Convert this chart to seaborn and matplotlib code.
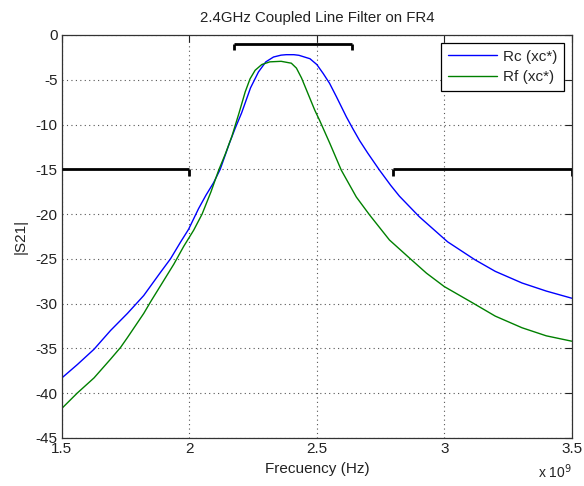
import numpy as np
import pandas as pd
import matplotlib
matplotlib.use("Agg")
import matplotlib.pyplot as plt
from matplotlib.ticker import FuncFormatter, MultipleLocator
import seaborn as sns

# Measured |S21| of the coupled line filter (frequency in GHz, magnitude in dB)
rc_freq_ghz = [1.50, 1.561, 1.626, 1.691, 1.757, 1.821, 1.887, 1.926, 1.965, 1.997,
               2.036, 2.065, 2.095, 2.121, 2.157, 2.18, 2.205, 2.24, 2.271, 2.30,
               2.33, 2.36, 2.38, 2.41, 2.43, 2.473, 2.50, 2.525, 2.55, 2.577,
               2.616, 2.64, 2.668, 2.70, 2.746, 2.79, 2.824, 2.902, 3.013, 3.12, 3.20,
               3.305, 3.40, 3.50]
rc_s21_db = [-38.3, -36.8, -35.1, -33.0, -31.1, -29.1, -26.5, -25.0, -23.15, -21.7,
             -19.4, -17.9, -16.5, -15.0, -12.1, -10.4, -8.7, -5.9, -4.13, -3.0,
             -2.46, -2.25, -2.2, -2.2, -2.27, -2.65, -3.3, -4.3, -5.4, -6.9,
             -9.15, -10.4, -11.8, -13.2, -15.1, -16.8, -18.0, -20.3, -23.1, -25.1, -26.4,
             -27.7, -28.6, -29.4]

rf_freq_ghz = [1.50, 1.56, 1.626, 1.691, 1.73, 1.757, 1.821, 1.85, 1.887, 1.939,
               1.978, 2.017, 2.05, 2.085, 2.115, 2.141, 2.167, 2.195, 2.219, 2.238,
               2.258, 2.284, 2.316, 2.36, 2.40, 2.42, 2.44, 2.466, 2.492, 2.512,
               2.551, 2.596, 2.655, 2.707, 2.785, 2.863, 2.93, 3.00, 3.11, 3.20,
               3.305, 3.40, 3.50]
rf_s21_db = [-41.7, -40.0, -38.3, -36.2, -34.9, -33.8, -31.1, -29.7, -28.0, -25.6,
             -23.6, -21.8, -20.0, -17.5, -15.1, -13.3, -11.3, -8.7, -6.36, -4.9,
             -3.94, -3.3, -3.0, -2.94, -3.15, -3.7, -4.8, -6.6, -8.4, -9.6,
             -12.1, -15.1, -18.1, -20.1, -22.9, -24.9, -26.6, -28.1, -29.9, -31.4,
             -32.7, -33.6, -34.2]

series_names = ["Rc (xc*)", "Rf (xc*)"]
series_colors = ["#0000ff", "#008000"]

# Filter specification mask: (start GHz, end GHz, level dB)
mask_stopband_low = (1.50, 2.00, -15.0)
mask_passband = (2.175, 2.637, -1.0)
mask_stopband_high = (2.80, 3.50, -15.0)
mask_tick_db = 0.7

title_text = "2.4GHz Coupled Line Filter on FR4"
xlabel_text = "Frecuency (Hz)"
ylabel_text = "|S21|"

df = pd.concat([
    pd.DataFrame({"freq": np.array(rc_freq_ghz) * 1e9, "s21": rc_s21_db, "trace": series_names[0]}),
    pd.DataFrame({"freq": np.array(rf_freq_ghz) * 1e9, "s21": rf_s21_db, "trace": series_names[1]}),
])

sns.set_style("white")
plt.rcParams["font.family"] = ["Liberation Sans", "DejaVu Sans"]

fig = plt.figure(figsize=(5.84, 4.86), dpi=100)
ax = fig.add_axes([0.106, 0.099, 0.873, 0.829])

sns.lineplot(data=df, x="freq", y="s21", hue="trace",
             palette=dict(zip(series_names, series_colors)),
             linewidth=1.0, ax=ax, legend=False, sort=True)

# Specification mask drawn as black brackets
for (f0, f1, lvl), ends in [(mask_stopband_low, (False, True)),
                            (mask_passband, (True, True)),
                            (mask_stopband_high, (True, True))]:
    xs = [f0 * 1e9, f1 * 1e9]
    ax.plot(xs, [lvl, lvl], color="black", linewidth=2.0, solid_capstyle="butt", zorder=4)
    for on, fx in zip(ends, xs):
        if on:
            ax.plot([fx, fx], [lvl, lvl - mask_tick_db], color="black",
                    linewidth=2.0, solid_capstyle="butt", zorder=4)

ax.set_xlim(1.5e9, 3.5e9)
ax.set_ylim(-45, 0)
ax.xaxis.set_major_locator(MultipleLocator(0.5e9))
ax.yaxis.set_major_locator(MultipleLocator(5))
ax.xaxis.set_major_formatter(FuncFormatter(lambda v, p: f"{v / 1e9:g}"))
ax.yaxis.set_major_formatter(FuncFormatter(lambda v, p: f"{v:g}"))

ax.grid(True, color="#555555", linestyle=(0, (1, 3)), linewidth=0.8)
ax.tick_params(direction="in", length=5, width=0.8, top=True, right=True,
               labelsize=11, colors="#222222", pad=3)
for s in ax.spines.values():
    s.set_color("#333333")
    s.set_linewidth(0.9)

ax.set_title(title_text, fontsize=10.8, color="#222222", pad=9)
ax.set_xlabel(xlabel_text, fontsize=11, color="#222222", labelpad=4)
ax.set_ylabel(ylabel_text, fontsize=11, color="#222222", labelpad=6)
fig.text(0.979, 0.016, r"x 10$^{9}$", ha="right", va="baseline",
         fontsize=10, color="#222222")

handles = [plt.Line2D([], [], color=c, linewidth=1.0) for c in series_colors]
leg = ax.legend(handles, series_names, loc="upper right", fontsize=11,
                frameon=True, fancybox=False, handlelength=3.2, handletextpad=0.4,
                borderpad=0.45, labelspacing=0.45, borderaxespad=0.5)
leg.get_frame().set_edgecolor("black")
leg.get_frame().set_linewidth(0.9)
leg.get_frame().set_alpha(1.0)

fig.savefig("out.png", dpi=100)
